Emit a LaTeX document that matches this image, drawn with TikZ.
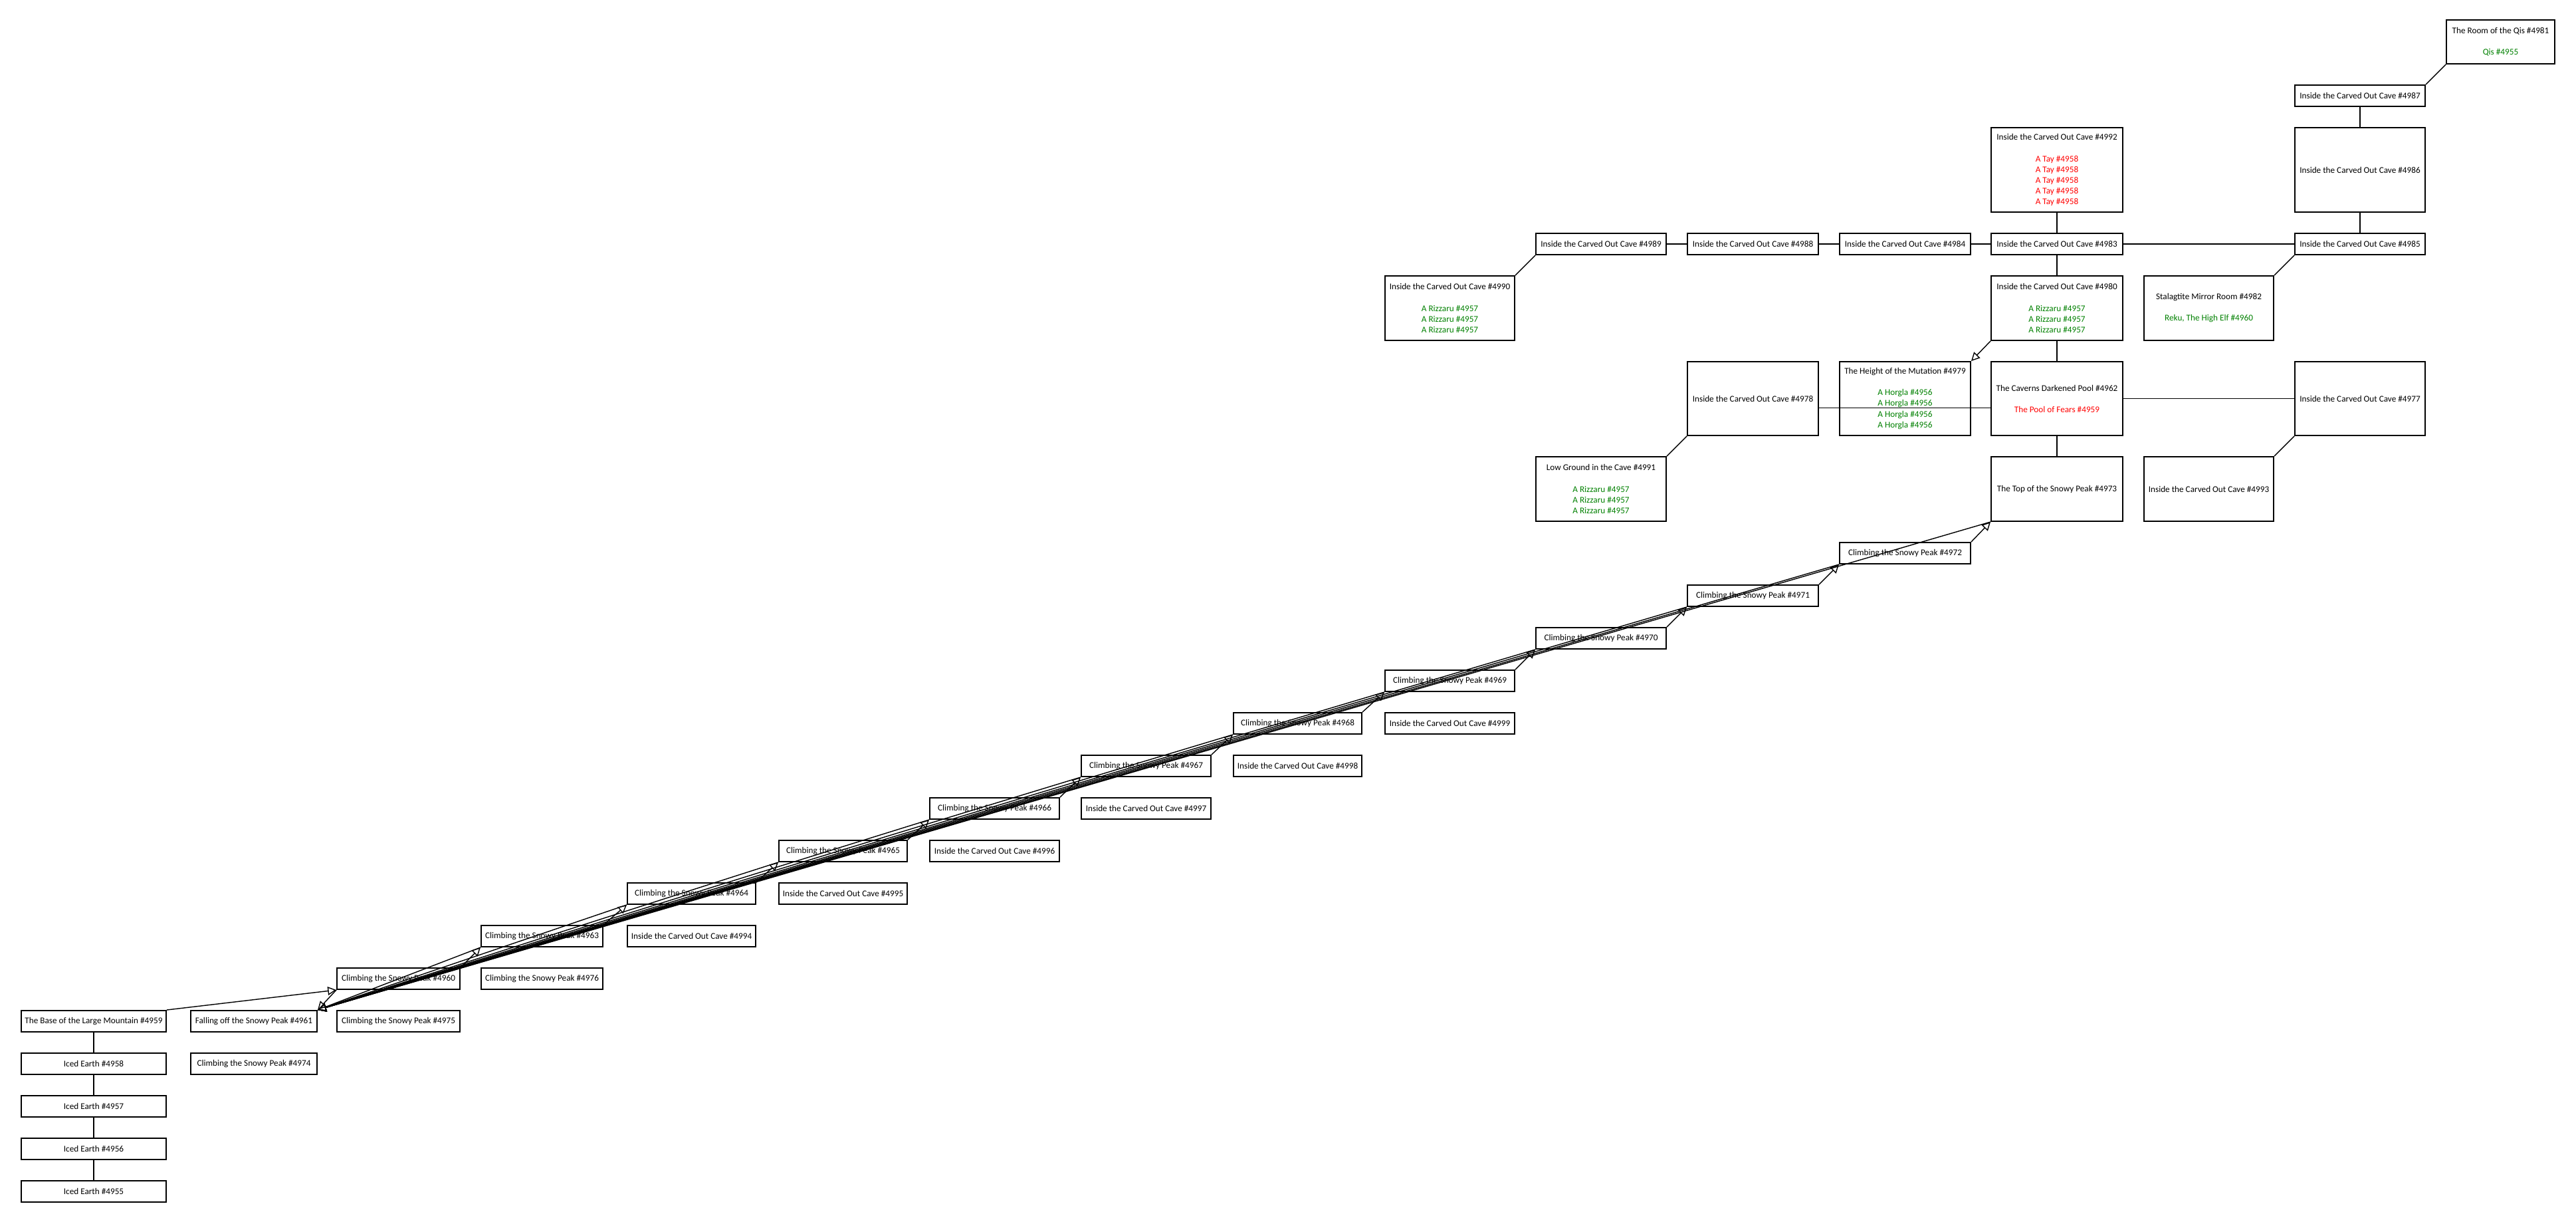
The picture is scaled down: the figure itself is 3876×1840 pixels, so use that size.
\documentclass[tikz,border=0pt]{standalone}
\usepackage{fontspec}
\setmainfont{Carlito}
\usetikzlibrary{arrows.meta}
\definecolor{mobgreen}{RGB}{0,128,0}
\definecolor{itemred}{RGB}{255,0,0}

\begin{document}
\begin{tikzpicture}[x=0.25mm,y=-0.25mm,>={Triangle[open,length=3.2mm,width=3.2mm]},
   room/.style={draw,line width=1.4pt,inner sep=1pt,align=center,minimum height=8mm,
     font=\fontsize{9.4}{11.4}\selectfont},
   link/.style={line width=1pt}]
   \useasboundingbox (0,0) rectangle (3876,1840);
   % mountain path
   \node[room, minimum width=54.5mm] (r4959) at (141,1536) {The Base of the Large Mountain \#4959};
   \node[room, minimum width=54.5mm] (r4958) at (141,1600) {Iced Earth \#4958};
   \node[room, minimum width=54.5mm] (r4957) at (141,1664) {Iced Earth \#4957};
   \node[room, minimum width=54.5mm] (r4956) at (141,1728) {Iced Earth \#4956};
   \node[room, minimum width=54.5mm] (r4955) at (141,1792) {Iced Earth \#4955};
   \node[room, minimum width=47.5mm] (r4961) at (382,1536) {Falling off the Snowy Peak \#4961};
   \node[room, minimum width=47.5mm] (r4974) at (382,1600) {Climbing the Snowy Peak \#4974};
   \node[room, minimum width=46.25mm] (r4960) at (599.5,1472) {Climbing the Snowy Peak \#4960};
   \node[room, minimum width=46.25mm] (r4975) at (599.5,1536) {Climbing the Snowy Peak \#4975};
   \node[room, minimum width=45.75mm] (r4963) at (815.5,1408) {Climbing the Snowy Peak \#4963};
   \node[room, minimum width=45.75mm] (r4976) at (815.5,1472) {Climbing the Snowy Peak \#4976};
   \node[room, minimum width=48.25mm] (r4964) at (1040.5,1344) {Climbing the Snowy Peak \#4964};
   \node[room, minimum width=48.25mm] (r4994) at (1040.5,1408) {Inside the Carved Out Cave \#4994};
   \node[room, minimum width=48.25mm] (r4965) at (1268.5,1280) {Climbing the Snowy Peak \#4965};
   \node[room, minimum width=48.25mm] (r4995) at (1268.5,1344) {Inside the Carved Out Cave \#4995};
   \node[room, minimum width=48.75mm] (r4966) at (1496.5,1216) {Climbing the Snowy Peak \#4966};
   \node[room, minimum width=48.75mm] (r4996) at (1496.5,1280) {Inside the Carved Out Cave \#4996};
   \node[room, minimum width=48.75mm] (r4967) at (1724.5,1152) {Climbing the Snowy Peak \#4967};
   \node[room, minimum width=48.75mm] (r4997) at (1724.5,1216) {Inside the Carved Out Cave \#4997};
   \node[room, minimum width=48.25mm] (r4968) at (1952.5,1088) {Climbing the Snowy Peak \#4968};
   \node[room, minimum width=48.25mm] (r4998) at (1952.5,1152) {Inside the Carved Out Cave \#4998};
   \node[room, minimum width=48.75mm] (r4969) at (2181.5,1024) {Climbing the Snowy Peak \#4969};
   \node[room, minimum width=48.75mm] (r4999) at (2181.5,1088) {Inside the Carved Out Cave \#4999};
   \node[room, minimum width=49mm] (r4970) at (2409,960) {Climbing the Snowy Peak \#4970};
   \node[room, minimum width=49.25mm] (r4971) at (2637.5,896) {Climbing the Snowy Peak \#4971};
   \node[room, minimum width=49.25mm] (r4972) at (2866.5,832) {Climbing the Snowy Peak \#4972};
   \node[room, minimum width=49.5mm, minimum height=24.25mm] (r4973) at (3095,735.5) {The Top of the Snowy Peak \#4973};
   % caves
   \node[room, minimum width=48.75mm, minimum height=24.25mm] (r4990) at (2181.5,463.5)
     {Inside the Carved Out Cave \#4990\\[11.4pt]\textcolor{mobgreen}{A Rizzaru \#4957}\\
      \textcolor{mobgreen}{A Rizzaru \#4957}\\\textcolor{mobgreen}{A Rizzaru \#4957}};
   \node[room, minimum width=49mm, minimum height=24.25mm] (r4991) at (2409,735.5)
     {Low Ground in the Cave \#4991\\[11.4pt]\textcolor{mobgreen}{A Rizzaru \#4957}\\
      \textcolor{mobgreen}{A Rizzaru \#4957}\\\textcolor{mobgreen}{A Rizzaru \#4957}};
   \node[room, minimum width=49mm] (r4989) at (2409,367) {Inside the Carved Out Cave \#4989};
   \node[room, minimum width=49.25mm, minimum height=27.75mm] (r4978) at (2637.5,599.5) {Inside the Carved Out Cave \#4978};
   \node[room, minimum width=49.25mm] (r4988) at (2637.5,367) {Inside the Carved Out Cave \#4988};
   \node[room, minimum width=49.25mm, minimum height=27.75mm] (r4979) at (2866.5,599.5)
     {The Height of the Mutation \#4979\\[11.4pt]\textcolor{mobgreen}{A Horgla \#4956}\\
      \textcolor{mobgreen}{A Horgla \#4956}\\\textcolor{mobgreen}{A Horgla \#4956}\\
      \textcolor{mobgreen}{A Horgla \#4956}};
   \node[room, minimum width=49.25mm] (r4984) at (2866.5,367) {Inside the Carved Out Cave \#4984};
   \node[room, minimum width=49.5mm, minimum height=27.75mm] (r4962) at (3095,599.5)
     {The Caverns Darkened Pool \#4962\\[11.4pt]\textcolor{itemred}{The Pool of Fears \#4959}};
   \node[room, minimum width=49.5mm, minimum height=24.25mm] (r4980) at (3095,463.5)
     {Inside the Carved Out Cave \#4980\\[11.4pt]\textcolor{mobgreen}{A Rizzaru \#4957}\\
      \textcolor{mobgreen}{A Rizzaru \#4957}\\\textcolor{mobgreen}{A Rizzaru \#4957}};
   \node[room, minimum width=49.5mm] (r4983) at (3095,367) {Inside the Carved Out Cave \#4983};
   \node[room, minimum width=49.5mm, minimum height=31.75mm] (r4992) at (3095,255.5)
     {Inside the Carved Out Cave \#4992\\[11.4pt]\textcolor{itemred}{A Tay \#4958}\\
      \textcolor{itemred}{A Tay \#4958}\\\textcolor{itemred}{A Tay \#4958}\\
      \textcolor{itemred}{A Tay \#4958}\\\textcolor{itemred}{A Tay \#4958}};
   \node[room, minimum width=48.75mm, minimum height=24.25mm] (r4993) at (3323.5,735.5) {Inside the Carved Out Cave \#4993};
   \node[room, minimum width=48.75mm, minimum height=24.25mm] (r4982) at (3323.5,463.5)
     {Stalagtite Mirror Room \#4982\\[11.4pt]\textcolor{mobgreen}{Reku, The High Elf \#4960}};
   \node[room, minimum width=49mm, minimum height=27.75mm] (r4977) at (3551,599.5) {Inside the Carved Out Cave \#4977};
   \node[room, minimum width=49mm] (r4985) at (3551,367) {Inside the Carved Out Cave \#4985};
   \node[room, minimum width=49mm, minimum height=31.75mm] (r4986) at (3551,255.5) {Inside the Carved Out Cave \#4986};
   \node[room, minimum width=49mm] (r4987) at (3551,144) {Inside the Carved Out Cave \#4987};
   \node[room, minimum width=40.75mm, minimum height=16.5mm] (r4981) at (3762.5,63)
     {The Room of the Qis \#4981\\[11.4pt]\textcolor{mobgreen}{Qis \#4955}};
   % two way exits
   \path[link]
        (r4959.south) edge (r4958.north)
        (r4958.south) edge (r4957.north)
        (r4957.south) edge (r4956.north)
        (r4956.south) edge (r4955.north)
        (r4989.east) edge (r4988.west)
        (r4988.east) edge (r4984.west)
        (r4984.east) edge (r4983.west)
        (r4983.east) edge (r4985.west)
        (r4992.south) edge (r4983.north)
        (r4983.south) edge (r4980.north)
        (r4980.south) edge (r4962.north)
        (r4962.south) edge (r4973.north)
        (r4985.north) edge (r4986.south)
        (r4986.north) edge (r4987.south)
        (r4987.north east) edge (r4981.south west)
        (r4985.south west) edge (r4982.north east)
        (r4989.south west) edge (r4990.north east)
        (r4978.south west) edge (r4991.north east)
        ([yshift=-3.5mm]r4978.east) edge ([yshift=-3.5mm]r4962.west)
        (r4962.east) edge (r4977.west)
        (r4977.south west) edge (r4993.north east)
        ;
   % one way exits
   \path[link,->]
        (r4959.north east) edge (r4960.south west)
        (r4960.north east) edge (r4963.south west)
        (r4963.north east) edge (r4964.south west)
        (r4964.north east) edge (r4965.south west)
        (r4965.north east) edge (r4966.south west)
        (r4966.north east) edge (r4967.south west)
        (r4967.north east) edge (r4968.south west)
        (r4968.north east) edge (r4969.south west)
        (r4969.north east) edge (r4970.south west)
        (r4970.north east) edge (r4971.south west)
        (r4971.north east) edge (r4972.south west)
        (r4972.north east) edge (r4973.south west)
        (r4960.south west) edge (r4961.north east)
        (r4963.south west) edge (r4961.north east)
        (r4964.south west) edge (r4961.north east)
        (r4965.south west) edge (r4961.north east)
        (r4966.south west) edge (r4961.north east)
        (r4967.south west) edge (r4961.north east)
        (r4968.south west) edge (r4961.north east)
        (r4969.south west) edge (r4961.north east)
        (r4970.south west) edge (r4961.north east)
        (r4971.south west) edge (r4961.north east)
        (r4972.south west) edge (r4961.north east)
        (r4973.south west) edge (r4961.north east)
        (r4980.south west) edge (r4979.north east)
        ;
\end{tikzpicture}
\end{document}
